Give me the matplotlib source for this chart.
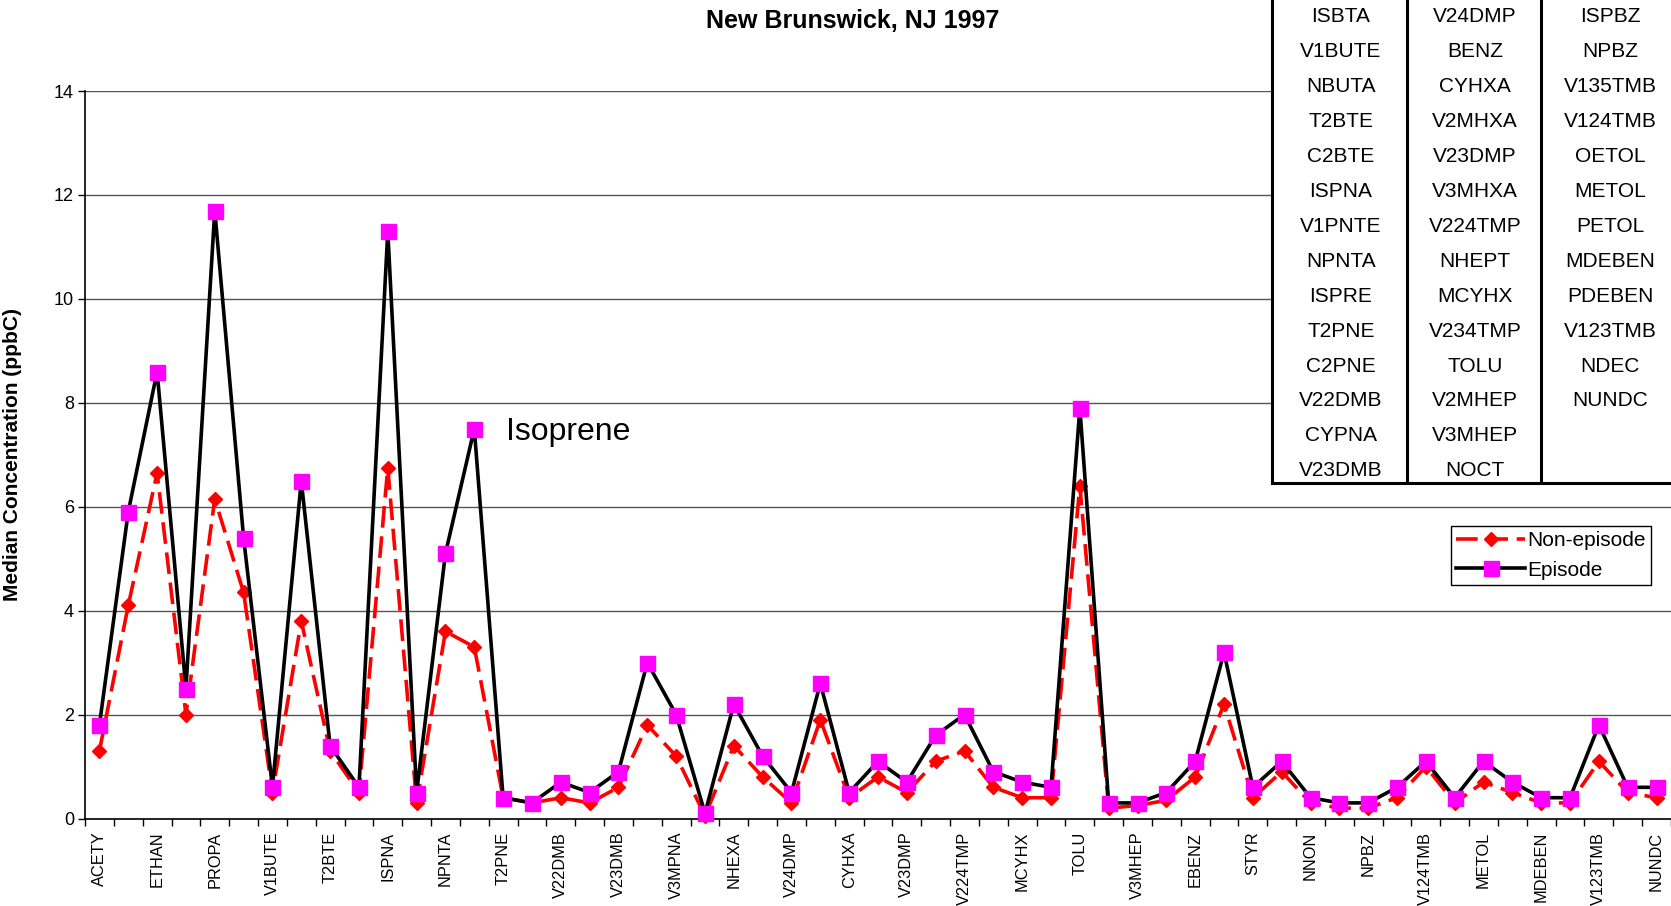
import matplotlib
matplotlib.use("Agg")
import matplotlib.pyplot as plt
import numpy as np

plt.rcParams["font.family"] = ["Liberation Sans", "DejaVu Sans"]

# ---- data ---------------------------------------------------------------
compounds = ["ACETY", "ETHE", "ETHAN", "PRPE", "PROPA", "ISBTA", "V1BUTE", "NBUTA", "T2BTE", "C2BTE",
             "ISPNA", "V1PNTE", "NPNTA", "ISPRE", "T2PNE", "C2PNE", "V22DMB", "CYPNA", "V23DMB", "V2MPNA",
             "V3MPNA", "V1HEXE", "NHEXA", "MCPNA", "V24DMP", "BENZ", "CYHXA", "V2MHXA", "V23DMP", "V3MHXA",
             "V224TMP", "NHEPT", "MCYHX", "V234TMP", "TOLU", "V2MHEP", "V3MHEP", "NOCT", "EBENZ", "MPXYL",
             "STYR", "OXYL", "NNON", "ISPBZ", "NPBZ", "V135TMB", "V124TMB", "OETOL", "METOL", "PETOL",
             "MDEBEN", "PDEBEN", "V123TMB", "NDEC", "NUNDC"]

non_episode = [1.3, 4.1, 6.65, 2.0, 6.15, 4.35, 0.5, 3.8, 1.3, 0.5,
               6.75, 0.3, 3.6, 3.3, 0.4, 0.3, 0.4, 0.3, 0.6, 1.8,
               1.2, 0.05, 1.4, 0.8, 0.3, 1.9, 0.4, 0.8, 0.5, 1.1,
               1.3, 0.6, 0.4, 0.4, 6.4, 0.2, 0.25, 0.35, 0.8, 2.2,
               0.4, 0.9, 0.3, 0.2, 0.2, 0.4, 1.0, 0.3, 0.7, 0.5,
               0.3, 0.3, 1.1, 0.5, 0.4]

episode = [1.8, 5.9, 8.6, 2.5, 11.7, 5.4, 0.6, 6.5, 1.4, 0.6,
           11.3, 0.5, 5.1, 7.5, 0.4, 0.3, 0.7, 0.5, 0.9, 3.0,
           2.0, 0.1, 2.2, 1.2, 0.5, 2.6, 0.5, 1.1, 0.7, 1.6,
           2.0, 0.9, 0.7, 0.6, 7.9, 0.3, 0.3, 0.5, 1.1, 3.2,
           0.6, 1.1, 0.4, 0.3, 0.3, 0.6, 1.1, 0.4, 1.1, 0.7,
           0.4, 0.4, 1.8, 0.6, 0.6]

tick_labels = compounds[::2]

table_col1 = ["ISBTA", "V1BUTE", "NBUTA", "T2BTE", "C2BTE", "ISPNA", "V1PNTE",
              "NPNTA", "ISPRE", "T2PNE", "C2PNE", "V22DMB", "CYPNA", "V23DMB"]
table_col2 = ["V24DMP", "BENZ", "CYHXA", "V2MHXA", "V23DMP", "V3MHXA", "V224TMP",
              "NHEPT", "MCYHX", "V234TMP", "TOLU", "V2MHEP", "V3MHEP", "NOCT"]
table_col3 = ["ISPBZ", "NPBZ", "V135TMB", "V124TMB", "OETOL", "METOL", "PETOL",
              "MDEBEN", "PDEBEN", "V123TMB", "NDEC", "NUNDC"]

# ---- figure -------------------------------------------------------------
W, H = 1671, 906
fig = plt.figure(figsize=(W / 100, H / 100), dpi=100)
ax = fig.add_axes([85 / W, 1 - 818.5 / H, 1 - 85 / W, (818.5 - 91) / H])

x = np.arange(len(compounds))
ax.plot(x, non_episode, color="#FF0000", lw=2.6, linestyle=(0, (6, 2.4)),
        marker="D", ms=7, mfc="#FF0000", mec="#FF0000", label="Non-episode",
        clip_on=False, zorder=3)
ax.plot(x, episode, color="black", lw=2.6, marker="s", ms=10.8,
        mfc="#FF00FF", mec="#FF00FF", label="Episode", clip_on=False, zorder=4)

ax.set_xlim(-0.5, len(compounds) - 0.5)
ax.set_ylim(0, 14)
ax.set_yticks(np.arange(0, 15, 2))
ax.yaxis.grid(True, color="#555555", lw=1)
ax.set_axisbelow(True)
for s in ["top", "right"]:
    ax.spines[s].set_visible(False)
ax.spines["left"].set_linewidth(1.2)
ax.spines["bottom"].set_linewidth(1.2)
ax.tick_params(axis="y", labelsize=13, length=5, width=1, pad=3)

ax.set_xticks(x[::2])
ax.set_xticklabels(tick_labels, rotation=90, fontsize=11.8)
ax.set_xticks(np.arange(-0.5, len(compounds), 1), minor=True)
ax.tick_params(axis="x", which="major", length=0, pad=9.5)
ax.tick_params(axis="x", which="minor", length=5, width=1)

ax.set_ylabel("Median Concentration (ppbC)", fontsize=15, fontweight="bold")
ax.yaxis.set_label_coords(-0.040, 0.5)

ax.text(14.1, 7.43, "Isoprene", fontsize=23, ha="left", va="center")

fig.text(853 / W, 1 - 21 / H, "New Brunswick, NJ 1997", ha="center", va="center",
         fontsize=18, fontweight="bold")

leg = ax.legend(loc="upper left", bbox_to_anchor=(1451 / W, 1 - 526 / H),
                bbox_transform=fig.transFigure, borderaxespad=0, fontsize=15,
                fancybox=False, framealpha=1, edgecolor="black", handlelength=3.3,
                handletextpad=0.1, labelspacing=0.5, borderpad=0.25)
leg.get_frame().set_linewidth(1)

# ---- compound table (upper right) ---------------------------------------
tax = fig.add_axes([1272 / W, 1 - 483 / H, (1700 - 1272) / W, (483 + 20) / H])
tax.set_xlim(1272, 1700)
tax.set_ylim(483, -20)
tax.set_xticks([])
tax.set_yticks([])
tax.set_facecolor("white")
for s in ["top", "right"]:
    tax.spines[s].set_visible(False)
for s in ["left", "bottom"]:
    tax.spines[s].set_linewidth(2.2)
for xd in [1407, 1541]:
    tax.plot([xd, xd], [-20, 483], color="black", lw=2.2)
for col, cx in zip([table_col1, table_col2, table_col3], [1341, 1475, 1610]):
    for k, name in enumerate(col):
        tax.text(cx, 17 + 34.9 * k, name, ha="center", va="center", fontsize=15)

fig.savefig("out.png", dpi=100)
